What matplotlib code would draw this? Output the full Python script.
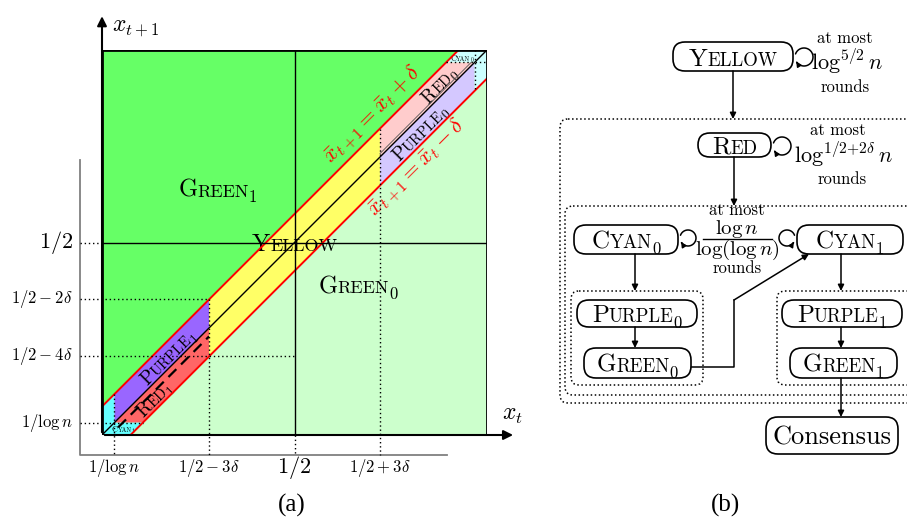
import numpy as np
import matplotlib
matplotlib.use("Agg")
import matplotlib.pyplot as plt
from matplotlib.patches import Polygon, FancyBboxPatch, FancyArrowPatch
from matplotlib.path import Path

plt.rcParams['mathtext.fontset'] = 'cm'

# parameters of panel (a), in units of the [0,1] x [0,1] square
delta = 0.074
inv_log_n = 0.032

# region colours
col_green1 = '#66ff66'
col_green0 = '#ccffcc'
col_yellow = '#ffff66'
col_red0 = '#ffcccc'
col_purple0 = '#d4c8ff'
col_cyan0 = '#ccffff'
col_red1 = '#ff6666'
col_purple1 = '#9966ff'
col_cyan1 = '#66ffff'

# tick labels of panel (a)
ytick_labels = [r'$1/\log n$', r'$1/2-4\delta$', r'$1/2-2\delta$']
xtick_labels = [r'$1/\log n$', r'$1/2-3\delta$', r'$1/2+3\delta$']

# flowchart nodes of panel (b): name -> (small caps parts, box in pixels x0, x1, y0, y1)
nodes = {
    'yellow':  ([('Y', 18, 0), ('ELLOW', 13.5, 0)], (673, 793, 42, 71)),
    'red':     ([('R', 18, 0), ('ED', 13.5, 0)], (698, 771, 133, 157)),
    'cyan0':   ([('C', 18, 0), ('YAN', 13.5, 0), ('0', 12, -4)], (574, 678, 225, 254)),
    'cyan1':   ([('C', 18, 0), ('YAN', 13.5, 0), ('1', 12, -4)], (797, 903, 225, 254)),
    'purple0': ([('P', 18, 0), ('URPLE', 13.5, 0), ('0', 12, -4)], (577, 697, 300, 327)),
    'green0':  ([('G', 18, 0), ('REEN', 13.5, 0), ('0', 12, -4)], (584, 691, 348, 378)),
    'purple1': ([('P', 18, 0), ('URPLE', 13.5, 0), ('1', 12, -4)], (782, 902, 300, 327)),
    'green1':  ([('G', 18, 0), ('REEN', 13.5, 0), ('1', 12, -4)], (790, 897, 348, 378)),
    'consensus': ([('Consensus', 19, 0)], (766, 898, 417, 454)),
}

W, H, DPI = 907, 518, 100
fig = plt.figure(figsize=(W / DPI, H / DPI), dpi=DPI)
renderer = fig.canvas.get_renderer()


def text_width_pt(s, size):
    t = fig.text(0, 0, s, fontsize=size, family='cmr10')
    w = t.get_window_extent(renderer).width
    t.remove()
    return w * 72.0 / DPI


def small_caps(ax, x, y, parts, rot=0.0, color='black'):
    # draw pieces one after the other, centred on (x, y)
    widths = [text_width_pt(s, size) for s, size, dy in parts]
    total = sum(widths)
    big = max(size for s, size, dy in parts)
    th = np.deg2rad(rot)
    ux, uy = np.cos(th), np.sin(th)
    px, py = -np.sin(th), np.cos(th)
    pos = -total / 2.0
    for (s, size, dy), w in zip(parts, widths):
        off = dy - 0.34 * big
        ax.annotate(s, xy=(x, y), xycoords='data',
                    xytext=(pos * ux + off * px, pos * uy + off * py),
                    textcoords='offset points', rotation=rot,
                    rotation_mode='anchor', ha='left', va='baseline',
                    fontsize=size, family='cmr10', color=color,
                    annotation_clip=False)
        pos += w


# ---------------- panel (a) ----------------
ax = fig.add_axes([102 / W, (H - 435) / H, 385 / W, 385 / H])
ax.set_xlim(0, 1)
ax.set_ylim(0, 1)
ax.axis('off')

d, c = delta, inv_log_n
a, b = 0.5 - 3 * d, 0.5 + 3 * d

regions = [
    (col_green0, [(0, 0), (1, 0), (1, 1), (0, 1)]),
    (col_green1, [(0, d), (0, 1), (1 - d, 1)]),
    (col_yellow, [(a, a - d), (b, b - d), (b, b + d), (a, a + d)]),
    (col_purple0, [(b, b - d), (1 - c, 1 - c - d), (1 - c, 1 - c), (b, b)]),
    (col_red0, [(b, b), (1 - c, 1 - c), (1 - c - d, 1 - c), (b, b + d)]),
    (col_cyan0, [(1 - d, 1), (1 - c - d, 1 - c), (1 - c, 1 - c), (1 - c, 1 - c - d),
                 (1, 1 - d), (1, 1)]),
    (col_purple1, [(c, c), (a, a), (a, a + d), (c, c + d)]),
    (col_red1, [(c, c), (c + d, c), (a, a - d), (a, a)]),
    (col_cyan1, [(0, 0), (0, d), (c, c + d), (c, c), (c + d, c), (d, 0)]),
]
for col, pts in regions:
    ax.add_patch(Polygon(pts, closed=True, facecolor=col, edgecolor='none', zorder=1))

# band boundaries and diagonal
ax.plot([0, 1 - d], [d, 1], color='red', lw=1.4, zorder=4)
ax.plot([d, 1], [0, 1 - d], color='red', lw=1.4, zorder=4)
ax.plot([0, 1], [0, 1], color='black', lw=1.0, zorder=4)
ax.plot([c + 0.01, a], [c + 0.01 - 0.022, a - 0.022], color='black', lw=1.6,
        ls=(0, (5, 3)), zorder=4)
ax.plot([b, 1 - c - 0.01], [b + 0.009, 1 - c - 0.001], color='#555555', lw=0.6, zorder=4)

# inner solid lines and border
ax.plot([0.5, 0.5], [0, 1], color='black', lw=1.0, zorder=4)
ax.plot([0, 1], [0.5, 0.5], color='black', lw=1.0, zorder=4)
ax.plot([0, 1, 1, 0, 0], [0, 0, 1, 1, 0], color='black', lw=2.0, zorder=5,
        solid_joinstyle='miter')

# dotted guides
xf, yf = -0.057, -0.052
dot = dict(color='black', lw=1.0, ls=(0, (1, 2)), zorder=4, clip_on=False)
ax.plot([b, b], [b + d, yf], **dot)
ax.plot([a, a], [a + d, yf], **dot)
ax.plot([0.5, 0.5], [0, yf], **dot)
ax.plot([c, c], [c + d, yf], **dot)
ax.plot([xf, a], [a + d, a + d], **dot)
ax.plot([xf, 0.5], [a - d, a - d], **dot)
ax.plot([xf, 0], [0.5, 0.5], **dot)
ax.plot([xf, c + d], [c, c], **dot)
ax.plot([1 - c, 1 - c], [1, 1 - c - d], **dot)
ax.plot([1 - c - d, 1], [1 - c, 1 - c], **dot)

# offset frame for the tick labels
ax.plot([xf, xf, 0.896], [0.714, yf, yf], color='#808080', lw=1.3, clip_on=False)

# axes arrows
ax.annotate('', xy=(1.075, 0), xytext=(0, 0),
            arrowprops=dict(arrowstyle='-|>', color='black', lw=1.5, mutation_scale=14),
            annotation_clip=False)
ax.annotate('', xy=(0, 1.095), xytext=(0, 0),
            arrowprops=dict(arrowstyle='-|>', color='black', lw=1.5, mutation_scale=14),
            annotation_clip=False)
ax.text(1.04, 0.055, r'$x_t$', fontsize=17, ha='left', va='center')
ax.text(0.025, 1.06, r'$x_{t+1}$', fontsize=17, ha='left', va='center')

# tick labels
for lab, yv in zip(ytick_labels, [c, a - d, a + d]):
    ax.text(-0.075, yv, lab, fontsize=12, ha='right', va='center')
ax.text(-0.075, 0.5, r'$1/2$', fontsize=16, ha='right', va='center')
for lab, xv in zip(xtick_labels, [c, a, b]):
    ax.text(xv, -0.085, lab, fontsize=12, ha='center', va='center')
ax.text(0.5, -0.085, r'$1/2$', fontsize=16, ha='center', va='center')

# region names
small_caps(ax, 0.30, 0.64, [('G', 17.5, 0), ('REEN', 13, 0), ('1', 12, -4)])
small_caps(ax, 0.5, 0.5, [('Y', 17.5, 0), ('ELLOW', 13, 0)])
small_caps(ax, 0.665, 0.39, [('G', 17.5, 0), ('REEN', 13, 0), ('0', 12, -4)])
small_caps(ax, 0.825, 0.825 - d / 2 - 0.003, [('P', 14, 0), ('URPLE', 10.5, 0), ('0', 9.5, -2)], rot=45)
small_caps(ax, 0.875, 0.875 + d / 2 - 0.003, [('R', 14, 0), ('ED', 10.5, 0), ('0', 9.5, -2)], rot=45)
small_caps(ax, 0.935, 0.98, [('C', 6, 0), ('YAN', 4.5, 0), ('0', 4, -1)])
small_caps(ax, 0.17, 0.17 + d / 2 - 0.003, [('P', 14, 0), ('URPLE', 10.5, 0), ('1', 9.5, -2)], rot=45)
small_caps(ax, 0.135, 0.135 - d / 2 - 0.003, [('R', 14, 0), ('ED', 10.5, 0), ('1', 9.5, -2)], rot=45)
small_caps(ax, 0.055, 0.015, [('C', 6, 0), ('YAN', 4.5, 0), ('1', 4, -1)])

ax.text(0.706, 0.831, r'$\bar{x}_{t+1} = \bar{x}_t + \delta$', color='red', fontsize=16,
        rotation=45, rotation_mode='anchor', ha='center', va='center')
ax.text(0.818, 0.694, r'$\bar{x}_{t+1} = \bar{x}_t - \delta$', color='red', fontsize=16,
        rotation=45, rotation_mode='anchor', ha='center', va='center')

# ---------------- panel (b) ----------------
bx = fig.add_axes([0, 0, 1, 1])
bx.set_xlim(0, W)
bx.set_ylim(H, 0)
bx.axis('off')


def rbox(x0, x1, y0, y1, r=12, ls='-', lw=1.2):
    bx.add_patch(FancyBboxPatch((x0, y0), x1 - x0, y1 - y0,
                                boxstyle='round,pad=0,rounding_size=%g' % r,
                                facecolor='white' if ls == '-' else 'none',
                                edgecolor='black', lw=lw, ls=ls, zorder=3))


def arrow(p0, p1):
    bx.annotate('', xy=p1, xytext=p0,
                arrowprops=dict(arrowstyle='-|>', color='black', lw=1.1,
                                mutation_scale=9, shrinkA=0, shrinkB=0), zorder=4)


def loop(x, y, r, side=1):
    th = np.deg2rad(np.linspace(160, -150, 60))
    cx = x + side * (r + 2)
    xs = cx + side * r * np.cos(th)
    ys = y - r * np.sin(th)
    bx.add_patch(FancyArrowPatch(path=Path(np.column_stack([xs, ys])),
                                 arrowstyle='-|>', mutation_scale=7, lw=1.1,
                                 color='black', zorder=4))


# dotted groupings
rbox(560, 930, 119, 403, r=8, ls=':', lw=1.1)
rbox(565, 925, 206, 395, r=8, ls=':', lw=1.1)
rbox(571, 703, 291, 385, r=8, ls=':', lw=1.1)
rbox(777, 925, 291, 385, r=8, ls=':', lw=1.1)

for name, (parts, (x0, x1, y0, y1)) in nodes.items():
    rbox(x0, x1, y0, y1, r=min(12, (y1 - y0) / 2))
    small_caps(bx, (x0 + x1) / 2, (y0 + y1) / 2 + 0.5, parts)

arrow((733, 71), (733, 119))
arrow((734, 157), (734, 206))
arrow((635, 254), (635, 291))
arrow((635, 327), (635, 348))
arrow((841, 254), (841, 291))
arrow((841, 327), (841, 348))
arrow((841, 378), (841, 417))
bx.plot([691, 734, 734], [367, 367, 300], color='black', lw=1.1)
arrow((734, 300), (809, 254))

loop(793, 57, 9)
loop(771, 146, 9)
loop(678, 238, 8)
loop(797, 238, 8, side=-1)

txt = dict(family='cmr10', fontsize=12, ha='center', va='center')
bx.text(845, 38, 'at most', **txt)
bx.text(847, 62, r'$\log^{5/2} n$', fontsize=16, ha='center', va='center')
bx.text(845, 87, 'rounds', **txt)
bx.text(838, 130, 'at most', **txt)
bx.text(843, 155, r'$\log^{1/2+2\delta} n$', fontsize=16, ha='center', va='center')
bx.text(842, 179, 'rounds', **txt)
bx.text(737, 210, 'at most', **txt)
bx.text(737, 229, r'$\log n$', fontsize=15, ha='center', va='center')
bx.plot([703, 772], [239, 239], color='black', lw=1.0)
bx.text(737, 250, r'$\log(\log n)$', fontsize=15, ha='center', va='center')
bx.text(737, 268, 'rounds', **txt)

serif = ['Liberation Serif', 'DejaVu Serif']
bx.text(292, 505, '(a)', family=serif, fontsize=18, ha='center', va='center')
bx.text(725, 505, '(b)', family=serif, fontsize=18, ha='center', va='center')

fig.savefig('out.png', dpi=DPI)
